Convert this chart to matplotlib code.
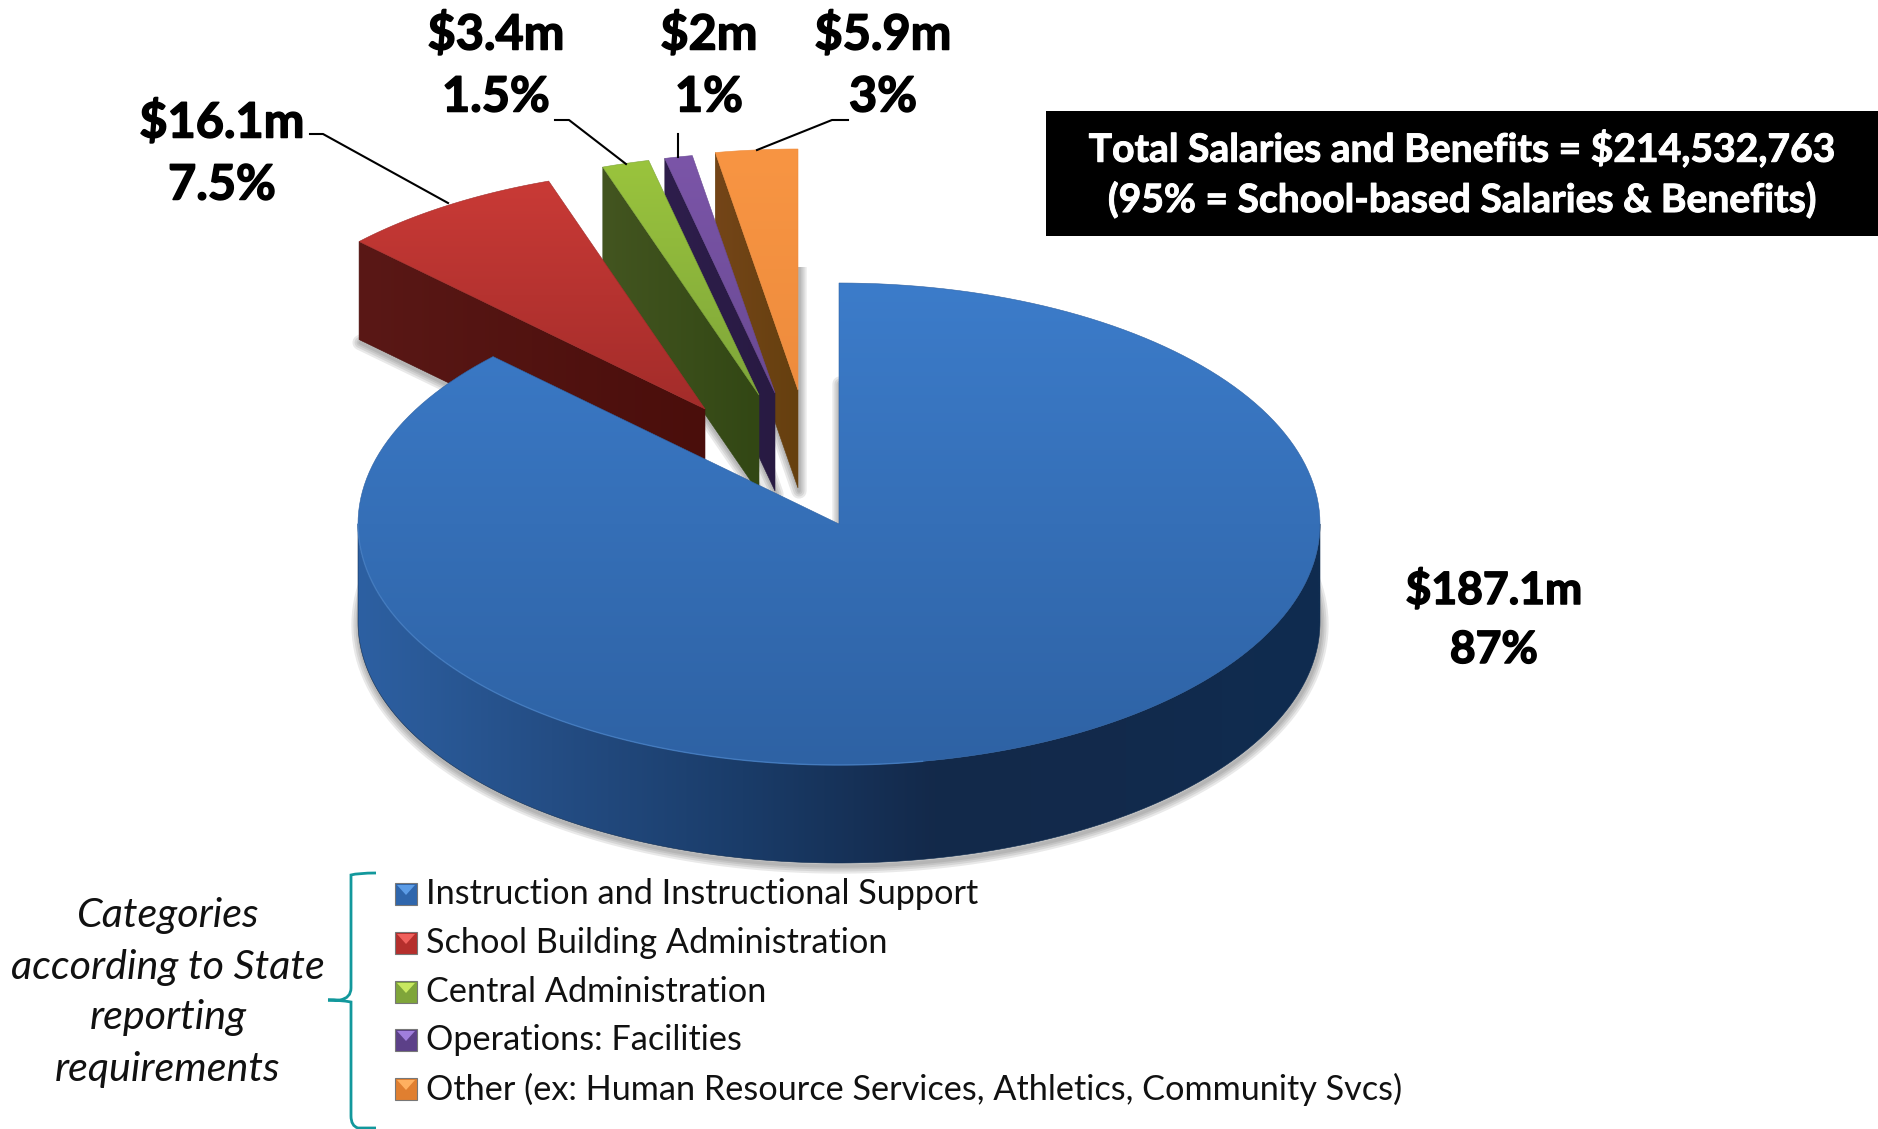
import numpy as np
import matplotlib
matplotlib.use('Agg')
import matplotlib.pyplot as plt
import matplotlib.patheffects as pe
from matplotlib.colors import to_rgb
from matplotlib.patches import Polygon, PathPatch, Rectangle
from matplotlib.path import Path

# Data
categories = ['Instruction and Instructional Support', 'School Building Administration',
              'Central Administration', 'Operations: Facilities',
              'Other (ex: Human Resource Services, Athletics, Community Svcs)']
values_m = [187.1, 16.1, 3.4, 2.0, 5.9]
dollar_labels = ['$187.1m', '$16.1m', '$3.4m', '$2m', '$5.9m']
pct_labels = ['87%', '7.5%', '1.5%', '1%', '3%']
box_lines = ['Total Salaries and Benefits = $214,532,763',
             '(95% = School-based Salaries & Benefits)']
side_note = ['Categories', 'according to State', 'reporting', 'requirements']

# Layout, in pixels
W, H = 1878, 1129
CX, CY = 839, 524
RX, RY = 481, 241
DEPTH = 98
offsets = [(0, 0), (-134, -115), (-80, -129), (-64, -131), (-41, -134)]
label_pos = [(1494, 590), (222, 122), (496, 34), (709, 34), (883, 34)]
LINE_GAP = [60, 63, 63, 63, 63]
LABEL_SIZE = [32, 35, 35, 35, 35]

top_colors = [('#3C7CCA', '#2E62A4'), ('#C93A36', '#A32C2A'), ('#9AC43D', '#7FA63A'),
              ('#7B55A8', '#6A4A94'), ('#F89543', '#EE8C3D')]
wall_colors = ['', ('#5A1816', '#4A0E0B'), ('#435520', '#324714'),
               ('#2E1E4C', '#281A42'), ('#744518', '#66400F')]
legend_colors = [('#2F66AC', '#5C9CE6'), ('#B52F2C', '#F0605C'), ('#7FA53A', '#C8E860'),
                 ('#5C4088', '#A07EDC'), ('#E07F30', '#FFB060')]

fig = plt.figure(figsize=(W / 100, H / 100), dpi=100)
ax = fig.add_axes([0, 0, 1, 1])
FONT = 'Lato'
thick = [pe.withStroke(linewidth=1.1, foreground='black')]
thick_white = [pe.withStroke(linewidth=0.7, foreground='white')]


def rim(t0, t1, dx=0, dy=0, n=200):
    t = np.radians(np.linspace(t0, t1, n))
    return np.column_stack([CX + dx + RX * np.sin(t), CY + dy - RY * np.cos(t)])


def fill_gradient(pts, stops, horizontal=False, z=1):
    # paint a colour ramp over the bbox and clip it to the polygon
    x0, y0 = pts.min(axis=0)
    x1, y1 = pts.max(axis=0)
    pos = np.linspace(0, 1, len(stops))
    rgb = np.array([to_rgb(c) for c in stops])
    s = np.linspace(0, 1, 256)
    ramp = np.stack([np.interp(s, pos, rgb[:, i]) for i in range(3)], axis=1)
    img = ramp[None, :, :] if horizontal else ramp[:, None, :]
    im = ax.imshow(img, extent=(x0, x1, y1, y0), aspect='auto', zorder=z, interpolation='bilinear')
    outline = Polygon(pts, closed=True, fc='none', ec=stops[-1], lw=0.4, zorder=z + 0.1)
    ax.add_patch(outline)
    im.set_clip_path(outline)


def soft_shadow(pts, clip_top=None):
    for lw in [11, 8, 5, 2.5]:
        p = Polygon(pts + [1, 3], closed=True, fc='none', ec='#555555', lw=lw,
                    alpha=0.13, joinstyle='round', zorder=0.5)
        ax.add_patch(p)
        if clip_top is not None:
            p.set_clip_path(Rectangle((0, clip_top), W, H - clip_top, transform=ax.transData))


angles = np.cumsum([0] + [v / sum(values_m) * 360 for v in values_m])

# Shadows sit below all the slices
for i in range(5):
    dx, dy = offsets[i]
    apex = [[CX + dx, CY + dy + DEPTH]]
    soft_shadow(np.vstack([apex, rim(angles[i], angles[i + 1], dx, dy + DEPTH)]),
                clip_top=None if i == 0 else 267)

# Exploded slices, back to front
for i in [4, 3, 2, 1]:
    dx, dy = offsets[i]
    z = 10 + (5 - i) * 2
    outer = rim(angles[i], angles[i], dx, dy, 1)[0]
    apex = np.array([CX + dx, CY + dy])
    face = np.array([outer, apex, apex + [0, DEPTH], outer + [0, DEPTH]])
    fill_gradient(face, wall_colors[i], horizontal=True, z=z)
    top = np.vstack([apex, rim(angles[i], angles[i + 1], dx, dy)])
    fill_gradient(top, top_colors[i], z=z + 1)

# Main slice: front wall, then the top with a light rim along the front edge
front = np.vstack([rim(90, 270), rim(90, 270, 0, DEPTH)[::-1]])
fill_gradient(front, ['#2D60A2', '#244D84', '#1A3C69', '#13294A', '#122A4C', '#0F2C50'],
              horizontal=True, z=30)
top = np.vstack([[CX, CY], rim(angles[0], angles[1])])
fill_gradient(top, top_colors[0], z=32)
edge = rim(170, 270)
ax.plot(edge[:, 0], edge[:, 1], color='#4C86CC', lw=1, alpha=0.7, zorder=33)

# Value labels
for i in range(5):
    x, y = label_pos[i]
    for txt, ty in [(dollar_labels[i], y), (pct_labels[i], y + LINE_GAP[i])]:
        ax.text(x, ty, txt, ha='center', va='center', fontsize=LABEL_SIZE[i], fontweight='bold',
                family=FONT, color='black', zorder=50, path_effects=thick)

# Leader lines
leaders = [[(310, 134), (323, 134), (448, 203)],
           [(555, 120), (569, 120), (626, 164)],
           [(678, 134), (678, 157)],
           [(848, 120), (832, 120), (757, 150)]]
for pts in leaders:
    xs, ys = zip(*pts)
    ax.plot(xs, ys, color='black', lw=1.5, zorder=40)

# Black summary box
ax.add_patch(Rectangle((1046, 111), W - 1046, 125, fc='black', ec='none', zorder=45))
for line, y in zip(box_lines, [149, 200]):
    ax.text(1462, y, line, color='white', ha='center', va='center', fontsize=28.1,
            fontweight='bold', family=FONT, zorder=50, path_effects=thick_white)

# Legend with bevelled swatches
legend_y = [894, 943, 992, 1040, 1089]
for name, y, (base, light) in zip(categories, legend_y, legend_colors):
    ax.add_patch(Rectangle((395, y - 11), 22, 22, fc=base, ec='#777777', lw=0.8, zorder=40))
    ax.add_patch(Polygon([(397, y - 9), (415, y - 9), (406, y + 1)], closed=True, fc=light,
                         ec='none', zorder=41))
    ax.text(426, y, name, ha='left', va='center', fontsize=24.7, family=FONT, color='#111111',
            zorder=50)

# Bracket in front of the legend
brace = Path([(376, 873), (358, 873), (351, 875), (351, 885),
              (351, 988), (351, 998), (340, 1000), (328, 1000),
              (340, 1000), (351, 1002), (351, 1012),
              (351, 1116), (351, 1126), (358, 1128), (376, 1128)],
             [Path.MOVETO, Path.CURVE3, Path.CURVE3, Path.LINETO,
              Path.LINETO, Path.CURVE3, Path.CURVE3, Path.LINETO,
              Path.CURVE3, Path.CURVE3, Path.LINETO,
              Path.LINETO, Path.CURVE3, Path.CURVE3, Path.LINETO])
ax.add_patch(PathPatch(brace, fc='none', ec='#12989C', lw=2, zorder=40))

for line, y in zip(side_note, [916, 967, 1018, 1070]):
    ax.text(168, y, line, ha='center', va='center', fontsize=29.7, style='italic', family=FONT,
            color='#111111', zorder=50)

ax.set_xlim(0, W)
ax.set_ylim(H, 0)
ax.axis('off')
fig.savefig('out.png', dpi=100, facecolor='white')
plt.close(fig)
